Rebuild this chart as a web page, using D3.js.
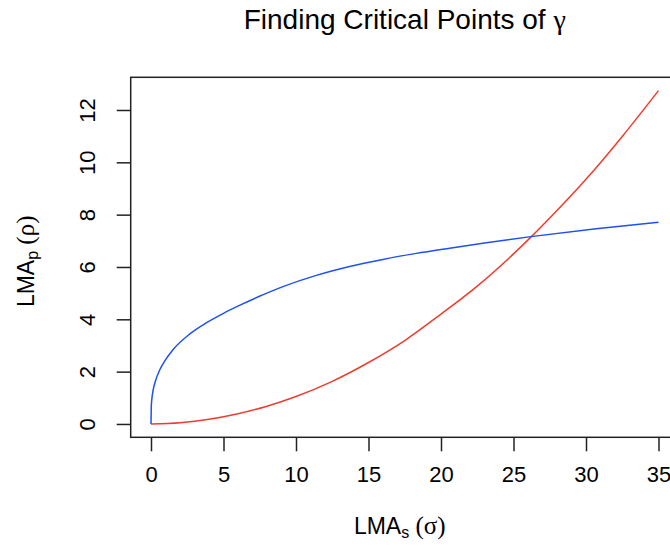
<!DOCTYPE html>
<meta charset="utf-8">
<script src="https://d3js.org/d3.v7.min.js"></script>
<style>
  body { margin: 0; background: #fff; }
  text { font-family: "Liberation Sans", Arial, sans-serif; fill: #000; }
</style>
<body>
<div id="chart"></div>
<script>

    // values
    var xTicks = [0, 5, 10, 15, 20, 25, 30, 35];
    var yTicks = [0, 2, 4, 6, 8, 10, 12];

    // blue curve
    var blueX = [0, 0.02, 0.05, 0.15, 0.3, 0.6, 1, 1.5, 2.7, 3.8, 5, 6.1, 7.4, 9.1, 11.4, 13.7, 16, 18.3, 20.6, 23, 26.2, 30.7, 35];
    var blueY = [0, 0.67, 0.9, 1.30, 1.63, 2.06, 2.45, 2.83, 3.45, 3.86, 4.23, 4.53, 4.86, 5.25, 5.68, 6.02, 6.29, 6.52, 6.72, 6.92, 7.16, 7.46, 7.71];

    // red curve
    var redX = [0, 2, 4, 6, 8, 10, 12.5, 15, 17.5, 20, 22.5, 25, 26.2, 27.5, 30, 32.5, 35];
    var redY = [0, 0.05, 0.18, 0.39, 0.68, 1.05, 1.63, 2.35, 3.19, 4.2, 5.27, 6.5, 7.14, 7.87, 9.35, 10.99, 12.74];

    var width = 670, height = 550;
    var plot = {left: 130.7, right: 678.8, top: 77.3, bottom: 437.3};

    var svg = d3.select("#chart")
        .append("svg")
        .attr("width", width)
        .attr("height", height);

    // R style 4% padding on both axes
    var xmax = d3.max(blueX.concat(redX)), ymax = d3.max(blueY.concat(redY));
    var x = d3.scaleLinear()
        .domain([-0.04 * xmax, xmax * 1.04])
        .range([plot.left, plot.right]);
    var y = d3.scaleLinear()
        .domain([-0.04 * ymax, ymax * 1.04])
        .range([plot.bottom, plot.top]);

    var line = d3.line()
        .x(function(d) { return x(d[0]); })
        .y(function(d) { return y(d[1]); })
        .curve(d3.curveMonotoneX);

    svg.append("path")
        .datum(d3.zip(redX, redY))
        .attr("fill", "none")
        .attr("stroke", "#f03c2d")
        .attr("stroke-width", 1.5)
        .attr("d", line);

    svg.append("path")
        .datum(d3.zip(blueX, blueY))
        .attr("fill", "none")
        .attr("stroke", "#1f4ff8")
        .attr("stroke-width", 1.5)
        .attr("d", line);

    // box
    svg.append("rect")
        .attr("x", plot.left)
        .attr("y", plot.top)
        .attr("width", plot.right - plot.left)
        .attr("height", plot.bottom - plot.top)
        .attr("fill", "none")
        .attr("stroke", "#222")
        .attr("stroke-width", 1.5);

    // x axis
    var gx = svg.append("g")
        .attr("transform", "translate(0," + plot.bottom + ")")
        .call(d3.axisBottom(x).tickValues(xTicks).tickSize(14).tickSizeOuter(0).tickPadding(15));
    gx.select(".domain").remove();
    gx.selectAll("line").attr("stroke", "#222").attr("stroke-width", 1.5);
    gx.selectAll("text").style("font-size", "22px").attr("font-family", "Liberation Sans, Arial, sans-serif");

    // y axis, labels turned like R
    var gy = svg.append("g")
        .attr("transform", "translate(" + plot.left + ",0)")
        .call(d3.axisLeft(y).tickValues(yTicks).tickSize(14).tickSizeOuter(0));
    gy.select(".domain").remove();
    gy.selectAll("line").attr("stroke", "#222").attr("stroke-width", 1.5);
    gy.selectAll("text")
        .attr("x", null).attr("dy", null)
        .attr("text-anchor", "middle")
        .attr("transform", "translate(-36,0) rotate(-90)")
        .style("font-size", "22px")
        .attr("font-family", "Liberation Sans, Arial, sans-serif");

    var cx = (plot.left + plot.right) / 2, cy = (plot.top + plot.bottom) / 2;

    // title
    var title = svg.append("text")
        .attr("x", cx)
        .attr("y", 29)
        .attr("text-anchor", "middle")
        .style("font-size", "28px");
    title.append("tspan").text("Finding Critical Points of ");
    title.append("tspan").attr("font-family", "Liberation Serif, serif").text("γ");

    // x label
    var xl = svg.append("text")
        .attr("x", cx - 5)
        .attr("y", 534)
        .attr("text-anchor", "middle")
        .style("font-size", "23px");
    xl.append("tspan").text("LMA");
    xl.append("tspan").attr("dy", 4).style("font-size", "16px").text("s");
    xl.append("tspan").attr("dy", -4).style("font-family", "Liberation Serif, serif").style("font-size", "25px").text(" (σ)");

    // y label
    var yl = svg.append("text")
        .attr("transform", "translate(33.5," + (cy + 4) + ") rotate(-90)")
        .attr("text-anchor", "middle")
        .style("font-size", "23px");
    yl.append("tspan").text("LMA");
    yl.append("tspan").attr("dy", 4).style("font-size", "16px").text("p");
    yl.append("tspan").attr("dy", -4).style("font-family", "Liberation Serif, serif").style("font-size", "25px").text(" (ρ)");

</script>
</body>
